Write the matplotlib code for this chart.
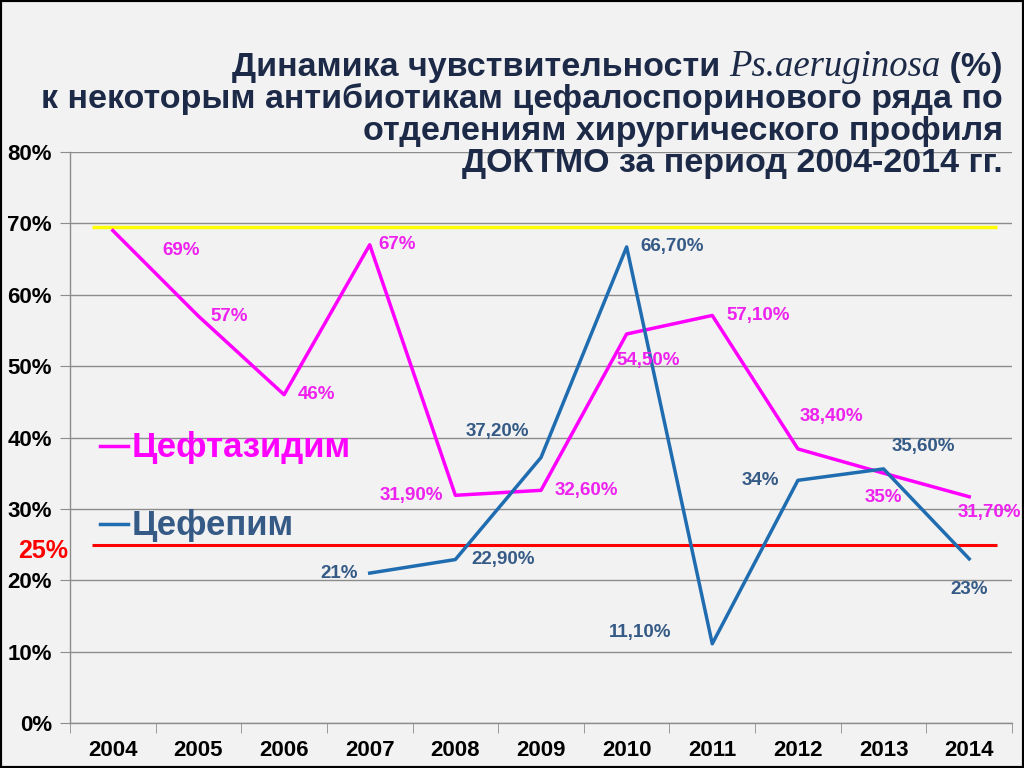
import matplotlib
matplotlib.use('Agg')
import matplotlib.pyplot as plt
from matplotlib.lines import Line2D
from matplotlib.patches import Rectangle
from matplotlib.ticker import FixedLocator, NullFormatter

plt.rcParams['font.family'] = ['Liberation Sans', 'DejaVu Sans']

# данные
years = ['2004', '2005', '2006', '2007', '2008', '2009', '2010', '2011', '2012', '2013', '2014']
ceftazidime = [69, 57, 46, 67, 31.9, 32.6, 54.5, 57.1, 38.4, 35, 31.7]
ceftazidime_labels = ['69%', '57%', '46%', '67%', '31,90%', '32,60%', '54,50%', '57,10%',
                      '38,40%', '35%', '31,70%']
cefepime_years = ['2007', '2008', '2009', '2010', '2011', '2012', '2013', '2014']
cefepime = [21, 22.9, 37.2, 66.7, 11.1, 34, 35.6, 23]
cefepime_labels = ['21%', '22,90%', '37,20%', '66,70%', '11,10%', '34%', '35,60%', '23%']
upper_level = 69.5
lower_level = 25

# смещения подписей в пикселях (dx, dy)
ceft_off = [(68, -20), (31, 0), (32, 0), (27, 0), (-44, 0), (45, 0), (22, -26), (46, 0),
            (34, 32), (0, -24), (20, -16)]
cefe_off = [(-31, 0), (48, 0), (-44, 26), (45, 0), (-72, 11), (-38, 0), (40, 22), (0, -31)]

MAGENTA = '#ff00ff'
BLUE = '#1f6db0'
BLUE_TXT = '#355a86'
BG = '#f2f2f2'
NAVY = '#1c2a48'

fig = plt.figure(figsize=(10.24, 7.68), dpi=100, facecolor=BG)
W, H = 1024, 768
ax = fig.add_axes([70 / W, 45 / H, 942 / W, 571 / H], facecolor=BG)

x_all = list(range(len(years)))
x_cefe = [years.index(y) for y in cefepime_years]

ax.set_xlim(-0.5, len(years) - 0.5)
ax.set_ylim(0, 80)
ax.set_yticks(range(0, 81, 10))
ax.set_yticklabels([f'{v}%' for v in range(0, 81, 10)])
ax.yaxis.grid(True, color='#8c8c8c', lw=1)
ax.set_axisbelow(True)

ax.set_xticks(x_all)
ax.set_xticklabels(years)
ax.xaxis.set_minor_locator(FixedLocator([i - 0.5 for i in range(len(years) + 1)]))
ax.xaxis.set_minor_formatter(NullFormatter())
ax.tick_params(axis='x', which='major', length=0, pad=12)
ax.tick_params(axis='x', which='minor', length=7, color='#8c8c8c', direction='out')
ax.tick_params(axis='y', length=7, color='#8c8c8c', pad=6)
for lab in ax.get_xticklabels():
    lab.set_fontweight('bold')
    lab.set_fontsize(16)
for lab in ax.get_yticklabels():
    lab.set_fontweight('bold')
    lab.set_fontsize(16)

for s in ['top', 'right']:
    ax.spines[s].set_visible(False)
for s in ['left', 'bottom']:
    ax.spines[s].set_color('#8c8c8c')
    ax.spines[s].set_linewidth(1)

# уровни
x0 = (92 - 70) / (942 / 11) - 0.5
x1 = (997 - 70) / (942 / 11) - 0.5
ax.hlines(upper_level, x0, x1, color='#ffff00', lw=2.5, zorder=2)
ax.hlines(lower_level, x0, x1, color='#ff0000', lw=2.2, zorder=2)

ax.plot(x_all, ceftazidime, color=MAGENTA, lw=2.5, zorder=3)
ax.plot(x_cefe, cefepime, color=BLUE, lw=2.5, zorder=3)

for xi, v, t, (dx, dy) in zip(x_all, ceftazidime, ceftazidime_labels, ceft_off):
    ax.annotate(t, (xi, v), xytext=(dx * 0.72, dy * 0.72), textcoords='offset points',
                ha='center', va='center', color='#ee22ee', fontsize=13.5, fontweight='bold')
for xi, v, t, (dx, dy) in zip(x_cefe, cefepime, cefepime_labels, cefe_off):
    ax.annotate(t, (xi, v), xytext=(dx * 0.72, dy * 0.72), textcoords='offset points',
                ha='center', va='center', color=BLUE_TXT, fontsize=13.5, fontweight='bold')

# подписи линий
fig.add_artist(Line2D([100 / W, 128 / W], [1 - 446 / H, 1 - 446 / H], color=MAGENTA, lw=2.5))
fig.text(132 / W, 1 - 447 / H, 'Цефтазидим', color=MAGENTA, fontsize=25, fontweight='bold',
         ha='left', va='center')
fig.add_artist(Line2D([100 / W, 128 / W], [1 - 524 / H, 1 - 524 / H], color=BLUE, lw=2.5))
fig.text(132 / W, 1 - 525 / H, 'Цефепим', color=BLUE_TXT, fontsize=25, fontweight='bold',
         ha='left', va='center')
fig.text(18 / W, 1 - 551 / H, '25%', color='#ff0000', fontsize=18, fontweight='bold',
         ha='left', va='center')

# заголовок
RX = 1003 / W
title_lines = [
    'к некоторым антибиотикам цефалоспоринового ряда по',
    'отделениям хирургического профиля',
    'ДОКТМО за период 2004-2014 гг.',
]
for i, line in enumerate(title_lines):
    fig.text(RX, 1 - (108 + i * 32) / H, line, ha='right', va='baseline', color=NAVY,
             fontsize=24.5, fontweight='bold')

fig.canvas.draw()
r = fig.canvas.get_renderer()
parts = [('Динамика чувствительности ', dict(fontweight='bold', fontsize=24.5)),
         ('Ps.aeruginosa', dict(fontstyle='italic', family=['Liberation Serif', 'DejaVu Serif'],
                                fontsize=26.5)),
         (' (%)', dict(fontweight='bold', fontsize=24.5))]
xr = RX * W
for txt, kw in reversed(parts):
    t = fig.text(xr / W, 1 - 76 / H, txt, ha='right', va='baseline', color=NAVY, **kw)
    xr -= t.get_window_extent(r).width

fig.add_artist(Rectangle((0, 0), 1, 1, transform=fig.transFigure, fill=False,
                         edgecolor='black', lw=3))

fig.savefig('out.png', dpi=100, facecolor=BG)
